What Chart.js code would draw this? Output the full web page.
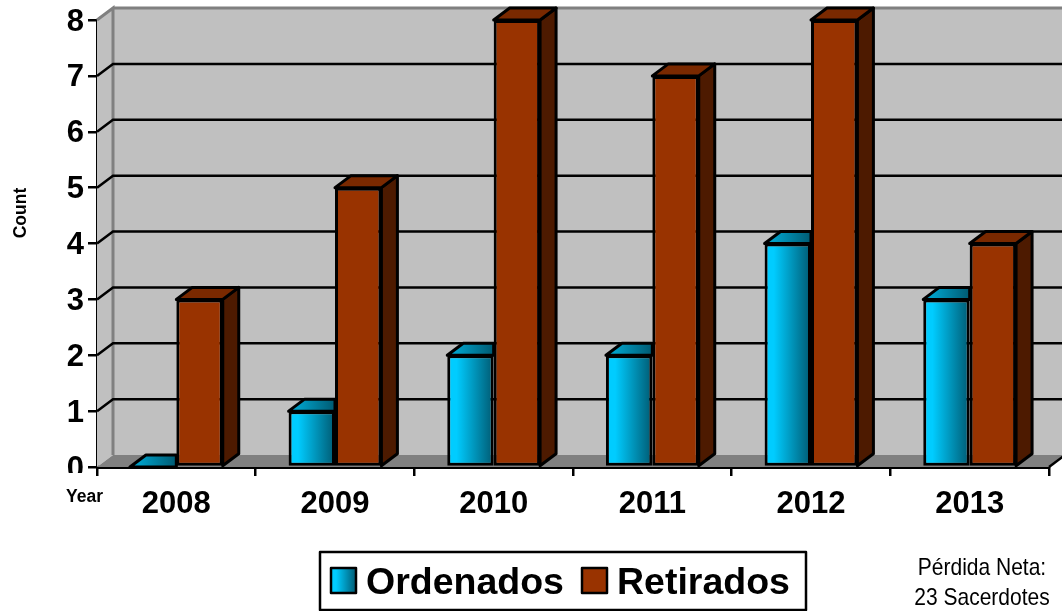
<!DOCTYPE html>
<html>
<head>
<meta charset="utf-8">
<style>
  html, body { margin: 0; background: #fff; }
  #wrap { width: 1062px; height: 611px; }
</style>
<script src="https://cdn.jsdelivr.net/npm/chart.js@4"></script>
</head>
<body>
<div id="wrap"><canvas id="grafico" width="1062" height="611"></canvas></div>
<script>
const anos = ['2008', '2009', '2010', '2011', '2012', '2013'];
const ordenados = [0, 1, 2, 2, 4, 3];
const retirados = [3, 5, 8, 7, 8, 4];
const ticksY = [0, 1, 2, 3, 4, 5, 6, 7, 8];
const notaLinhas = ['Pérdida Neta:', '23 Sacerdotes'];

// profundidade do efeito 3D
const dx = 16, dy = -12;
const larguraGrupo = 0.585;
const fonte = '"Liberation Sans", Arial, sans-serif';

function poligono(ctx, pts, fill, stroke, lw) {
  ctx.beginPath();
  pts.forEach((p, i) => i ? ctx.lineTo(p[0], p[1]) : ctx.moveTo(p[0], p[1]));
  ctx.closePath();
  if (fill) { ctx.fillStyle = fill; ctx.fill(); }
  if (stroke) { ctx.strokeStyle = stroke; ctx.lineWidth = lw; ctx.lineJoin = 'round'; ctx.stroke(); }
}

function gradAzul(ctx, x0, x1, c0, c1) {
  const g = ctx.createLinearGradient(x0, 0, x1, 0);
  g.addColorStop(0, c0);
  g.addColorStop(0.2, c0);
  g.addColorStop(1, c1);
  return g;
}

// texto estreitado na horizontal, como no original
function textoEstreito(c, t, x, y, esc) {
  c.save();
  c.translate(x, y);
  c.scale(esc, 1);
  c.fillText(t, 0, 0);
  c.restore();
}

const ctx = document.getElementById('grafico').getContext('2d');

// paredes, piso e grade do fundo
const paredes = {
  id: 'paredes',
  beforeDatasetsDraw(chart) {
    const c = chart.ctx, a = chart.chartArea, y = chart.scales.y;
    c.save();
    poligono(c, [[a.left, a.top], [a.left + dx, a.top + dy], [a.left + dx, a.bottom + dy], [a.left, a.bottom]], '#c0c0c0');
    c.fillStyle = '#c0c0c0';
    c.fillRect(a.left + dx, a.top + dy, a.right - a.left, a.bottom - a.top);
    poligono(c, [[a.left, a.bottom], [a.left + dx, a.bottom + dy], [a.right + dx, a.bottom + dy], [a.right, a.bottom]], '#808080');
    c.strokeStyle = '#808080';
    c.lineWidth = 3;
    c.beginPath();
    c.moveTo(a.left, a.top);
    c.lineTo(a.left + dx, a.top + dy);
    c.lineTo(a.left + dx, a.bottom + dy);
    c.moveTo(a.left + dx, a.top + dy);
    c.lineTo(a.right + dx, a.top + dy);
    c.stroke();
    c.strokeStyle = '#000';
    c.lineWidth = 2.5;
    ticksY.slice(1, -1).forEach(v => {
      const py = y.getPixelForValue(v);
      c.beginPath();
      c.moveTo(a.left, py);
      c.lineTo(a.left + dx, py + dy);
      c.lineTo(a.right + dx, py + dy);
      c.stroke();
    });
    c.beginPath();
    c.moveTo(a.right, a.bottom);
    c.lineTo(a.right + dx, a.bottom + dy);
    c.stroke();
    c.restore();
  }
};

// faces de cima e do lado das barras
const faces3d = {
  id: 'faces3d',
  beforeDatasetDraw(chart, args) {
    const c = chart.ctx;
    const azul = args.index === 0;
    args.meta.data.forEach(b => {
      const esq = b.x - b.width / 2, dir = b.x + b.width / 2, topo = b.y, base = b.base;
      if (azul) {
        // a barra vizinha esconde o lado, o topo termina nela
        poligono(c, [[esq, topo], [esq + dx, topo + dy], [dir, topo + dy], [dir, topo]],
          gradAzul(c, esq, dir, '#00a0c8', '#005a72'), '#000', 3);
      } else {
        poligono(c, [[dir, topo], [dir + dx, topo + dy], [dir + dx, base + dy], [dir, base]], '#4d1a00', '#000', 3);
        poligono(c, [[esq, topo], [esq + dx, topo + dy], [dir + dx, topo + dy], [dir, topo]], '#7a2900', '#000', 3);
      }
    });
  }
};

// textos soltos e legenda com moldura
const extras = {
  id: 'extras',
  afterDraw(chart) {
    const c = chart.ctx;
    c.save();
    // o "0" aparece cortado no original
    c.fillStyle = '#fff';
    c.fillRect(40, 473, 56, 22);

    c.fillStyle = '#000';
    c.textBaseline = 'alphabetic';
    c.font = 'bold 17.5px ' + fonte;
    c.textAlign = 'left';
    c.fillText('Year', 66, 502);

    c.save();
    c.translate(26, 213);
    c.rotate(-Math.PI / 2);
    c.textAlign = 'center';
    c.fillText('Count', 0, 0);
    c.restore();

    // legenda
    c.strokeStyle = '#000';
    c.lineWidth = 2.5;
    c.strokeRect(320, 552, 486, 58);
    const itens = [
      { x: 331, fill: gradAzul(c, 331, 356, '#00ccff', '#005a72') },
      { x: 582, fill: '#993300' }
    ];
    itens.forEach((it, i) => {
      c.fillStyle = it.fill;
      c.fillRect(it.x, 568, 25, 25);
      c.strokeRect(it.x, 568, 25, 25);
      c.fillStyle = '#000';
      c.font = 'bold 37.5px ' + fonte;
      c.textAlign = 'left';
      c.fillText(chart.data.datasets[i].label, it.x + 35, 594);
    });

    // nota
    c.font = '24px ' + fonte;
    c.textAlign = 'center';
    notaLinhas.forEach((t, i) => textoEstreito(c, t, 982, 575 + i * 30, 0.875));
    c.restore();
  }
};

new Chart(ctx, {
  type: 'bar',
  data: {
    labels: anos,
    datasets: [
      {
        label: 'Ordenados',
        data: ordenados,
        borderColor: '#000',
        borderWidth: 3,
        borderSkipped: false,
        backgroundColor: c => {
          const s = c.chart.scales.x;
          if (!s || c.dataIndex === undefined) return '#00ccff';
          const larg = s.width / anos.length * larguraGrupo / 2;
          const meio = s.getPixelForValue(c.dataIndex);
          if (!Number.isFinite(larg) || !Number.isFinite(meio)) return '#00ccff';
          return gradAzul(c.chart.ctx, meio - larg, meio, '#00ccff', '#005a72');
        }
      },
      {
        label: 'Retirados',
        data: retirados,
        borderColor: '#000',
        borderWidth: 3,
        borderSkipped: false,
        backgroundColor: '#993300'
      }
    ]
  },
  options: {
    responsive: false,
    animation: false,
    layout: { padding: { top: 20, right: 13, left: 0, bottom: 0 } },
    plugins: {
      legend: { display: false },
      tooltip: { enabled: false }
    },
    datasets: { bar: { categoryPercentage: larguraGrupo, barPercentage: 1 } },
    scales: {
      x: {
        afterFit: s => { s.height = 144; },
        grid: { drawOnChartArea: false, color: '#000', lineWidth: 2.5, tickLength: 9 },
        border: { color: '#000', width: 3 },
        ticks: { color: '#000', font: { family: fonte, size: 31, weight: 'bold' }, padding: 10, maxRotation: 0 }
      },
      y: {
        min: 0,
        max: 8,
        afterFit: s => { s.width = 97; s.paddingTop = 0; s.paddingBottom = 0; },
        afterBuildTicks: s => { s.ticks = ticksY.map(v => ({ value: v })); },
        grid: { drawOnChartArea: false, color: '#000', lineWidth: 2.5, tickLength: 9 },
        border: { color: '#000', width: 3 },
        ticks: { color: '#000', font: { family: fonte, size: 31, weight: 'bold' }, padding: 4, labelOffset: 2 }
      }
    }
  },
  plugins: [paredes, faces3d, extras]
});
</script>
</body>
</html>
